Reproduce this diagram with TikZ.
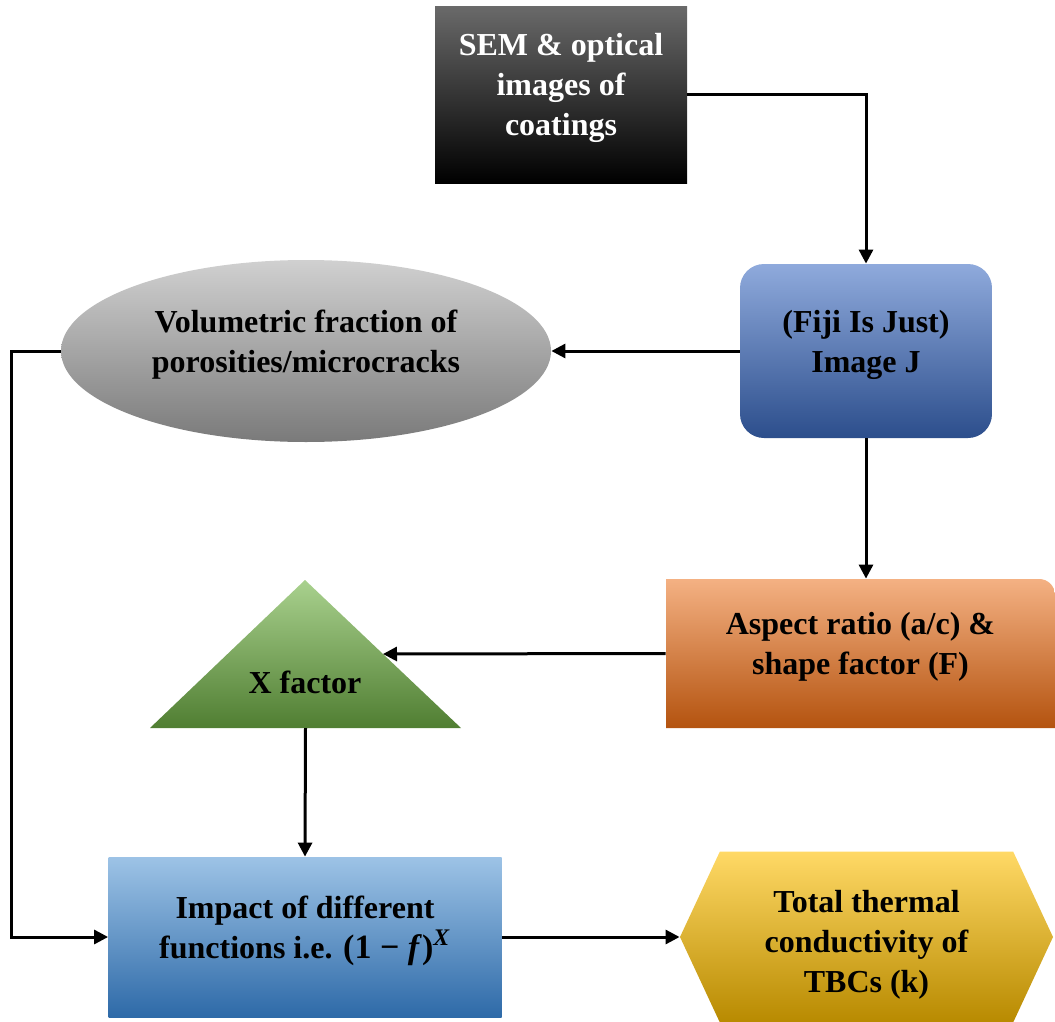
\documentclass[tikz,border=0pt]{standalone}
\usepackage{fontspec}
\setmainfont{Liberation Serif}
\usepackage{amsmath}
\usepackage{tikz}
\usetikzlibrary{arrows.meta}
\usetikzlibrary{shapes.geometric, shapes.symbols}
\usetikzlibrary{calc}

\definecolor{semtop}{RGB}{105,105,105}
\definecolor{fijitop}{RGB}{143,170,220}
\definecolor{fijimid}{RGB}{68,114,196}
\definecolor{fijibot}{RGB}{44,78,140}
\definecolor{voltop}{RGB}{208,208,208}
\definecolor{volbot}{RGB}{122,122,122}
\definecolor{asptop}{RGB}{244,177,131}
\definecolor{aspmid}{RGB}{237,125,49}
\definecolor{aspbot}{RGB}{180,83,15}
\definecolor{xtop}{RGB}{169,209,142}
\definecolor{xmid}{RGB}{112,173,71}
\definecolor{xbot}{RGB}{80,126,50}
\definecolor{imptop}{RGB}{157,195,230}
\definecolor{impmid}{RGB}{91,155,213}
\definecolor{impbot}{RGB}{46,106,168}
\definecolor{tottop}{RGB}{255,217,102}
\definecolor{totmid}{RGB}{255,192,0}
\definecolor{totbot}{RGB}{184,138,0}

\begin{document}
\begin{tikzpicture}[
    x=0.5pt, y=-0.5pt,
    every node/.style={font=\bfseries\fontsize{16}{20}\selectfont, align=center, inner sep=0pt},
    box/.style={rectangle, minimum width=126pt, minimum height=88pt},
    raised/.style={text depth=10pt},
    >=stealth
]
\useasboundingbox (0,0) rectangle (1055,1022);

% --- SEM images ---
\node[box, raised, text depth=11pt, top color=semtop, middle color=black, bottom color=black, text=white] (sem) at (561,95)
    {SEM \& optical\\images of\\coatings};

% --- ImageJ ---
\node[box, raised, rounded corners=12pt, minimum height=87pt, top color=fijitop, middle color=fijimid, bottom color=fijibot] (fiji) at (866,351)
    {(Fiji Is Just)\\Image J};

% --- Volumetric fraction ---
\node[ellipse, raised, minimum width=245pt, minimum height=91pt, top color=voltop, bottom color=volbot] (vol) at (306,351)
    {Volumetric fraction of\\porosities/microcracks};

% --- Aspect ratio (one rounded corner) ---
\shade[top color=asptop, middle color=aspmid, bottom color=aspbot]
    (666,728) -- (666,579) -- (1039,579) .. controls (1048,579) and (1055,586) .. (1055,595) -- (1055,728) -- cycle;
\node[raised, minimum width=194.5pt, minimum height=74.5pt] (asp) at (860.5,653.5)
    {Aspect ratio (a/c) \&\\shape factor (F)};

% --- X factor triangle ---
\coordinate (xapex) at (305,580);
\coordinate (xleft) at (150,728);
\coordinate (xright) at (461,728);
\shade[top color=xtop, middle color=xmid, bottom color=xbot] (xleft) -- (xapex) -- (xright) -- cycle;
\coordinate (xside) at ($(xapex)!0.5!(xright)$);
\coordinate (xbase) at ($(xleft)!0.5!(xright)$);
\node (xf) at (305,682) {X factor};

% --- Impact of functions ---
\node[box, raised, minimum width=196.5pt, minimum height=80pt, top color=imptop, middle color=impmid, bottom color=impbot] (imp) at (305,937)
    {Impact of different\\functions i.e. {\fontsize{17}{20}\selectfont(1 − \textit{f\/})\textsuperscript{\textit{X}}}};

% --- Total thermal conductivity ---
\node[signal, signal to=east and west, signal pointer angle=130, minimum width=186.5pt, minimum height=85.5pt,
    text height=55pt, text depth=0pt, top color=tottop, middle color=totmid, bottom color=totbot] (tot) at (866.5,937)
    {Total thermal\\conductivity of\\TBCs (k)};

% --- Connections ---
\draw[line width=1.5pt, -{Triangle[length=7pt, width=7pt]}] (sem.east) -| (fiji.north);
\draw[line width=1.5pt, -{Triangle[length=7pt, width=7pt]}] (fiji.west) -- (vol.east);
\draw[line width=1.5pt, -{Triangle[length=7pt, width=7pt]}] (fiji.south) -- (fiji.south |- asp.north);
\draw[line width=1.5pt, -{Triangle[length=7pt, width=7pt]}] (asp.west) -- (xside);
\draw[line width=1.5pt, -{Triangle[length=7pt, width=7pt]}] (xbase) -- (imp.north);
\draw[line width=1.5pt, -{Triangle[length=7pt, width=7pt]}] (vol.west) -- ++(-49,0) |- (imp.west);
\draw[line width=1.5pt, -{Triangle[length=7pt, width=7pt]}] (imp.east) -- (tot.west);

\end{tikzpicture}
\end{document}
